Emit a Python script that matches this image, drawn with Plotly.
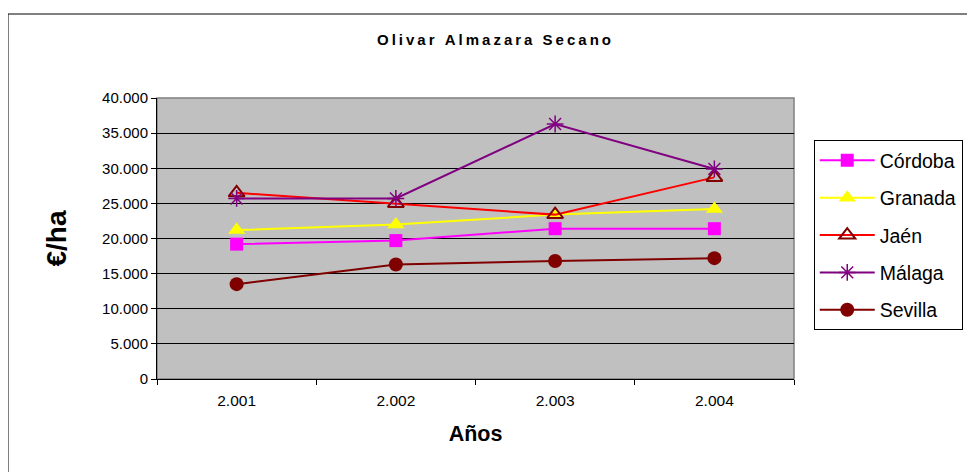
import plotly.graph_objects as go

# Olivar Almazara Secano - €/ha por provincia
years = ['2.001', '2.002', '2.003', '2.004']

cordoba = [19200, 19700, 21400, 21400]
granada = [21200, 22000, 23400, 24200]
jaen = [26500, 25000, 23400, 28700]
malaga = [25700, 25700, 36300, 29900]
sevilla = [13500, 16300, 16800, 17200]

y_ticks = [0, 5000, 10000, 15000, 20000, 25000, 30000, 35000, 40000]
y_labels = ['0', '5.000', '10.000', '15.000', '20.000', '25.000', '30.000', '35.000', '40.000']

series = [
    ('Córdoba', cordoba, dict(color='#FF00FF', width=2),
     dict(symbol='square', size=13, color='#FF00FF')),
    ('Granada', granada, dict(color='#FFFF00', width=2),
     dict(symbol='triangle-up', size=15, color='#FFFF00')),
    ('Jaén', jaen, dict(color='#FF0000', width=2),
     dict(symbol='triangle-up-open', size=14, color='#800000', line=dict(width=2, color='#800000'))),
    ('Málaga', malaga, dict(color='#800080', width=2),
     dict(symbol='asterisk-open', size=14, color='#800080', line=dict(width=1.5, color='#800080'))),
    ('Sevilla', sevilla, dict(color='#800000', width=2),
     dict(symbol='circle', size=14, color='#800000')),
]

fig = go.Figure()
for name, vals, ln, mk in series:
    fig.add_trace(go.Scatter(x=years, y=vals, name=name, mode='lines+markers',
                             line=ln, marker=mk, legendgroup=name))

# title with thin spaces between letters (letter-spaced like the original)
title_txt = '\u2009'.join('Olivar Almazara Secano')

# page is drawn ~8px in from the window edge, so margins are shifted
fig.update_layout(
    width=975, height=472,
    margin=dict(l=149, r=189, t=90, b=101),
    paper_bgcolor='white',
    plot_bgcolor='#C0C0C0',
    font=dict(family='Arial, Liberation Sans, sans-serif', color='black', size=12),
    title=dict(text='<b>' + title_txt + '</b>', x=486 / 975, xanchor='center',
               y=1 - 32 / 472, yanchor='middle', font=dict(size=15)),
    showlegend=True,
    legend=dict(x=1.031, xanchor='left', y=0.85, yanchor='top',
                bordercolor='black', borderwidth=1, bgcolor='white',
                font=dict(size=19.5), itemwidth=55, tracegroupgap=9),
)

fig.update_xaxes(
    range=[-0.5, 3.5], showgrid=False, showline=True, linecolor='black', linewidth=1,
    ticks='outside', tickson='boundaries', ticklen=5, tickcolor='black',
    tickfont=dict(size=15.5), ticklabelstandoff=7, mirror=False,
    title=dict(text='<b>Años</b>', font=dict(size=21.5), standoff=18),
)
fig.update_yaxes(
    range=[0, 40000], tickvals=y_ticks, ticktext=y_labels,
    showgrid=True, gridcolor='black', gridwidth=1,
    showline=True, linecolor='black', linewidth=1,
    ticks='outside', ticklen=5, tickcolor='black', tickfont=dict(size=15),
    zeroline=False,
    title=dict(text='<b>€/ha</b>', font=dict(size=28), standoff=27),
)

# gray frame of plot area (top/right)
fig.add_shape(type='rect', xref='paper', yref='paper', x0=0, y0=0, x1=1, y1=1,
              line=dict(color='#808080', width=1.5), layer='below')
# outer chart border
fig.add_shape(type='rect', xref='paper', yref='paper',
              x0=(0 - 149) / 637, y0=(371 - 478) / 281, x1=(985 - 149) / 637, y1=(371 - 6) / 281,
              line=dict(color='black', width=1))

fig.write_html("out.html")
